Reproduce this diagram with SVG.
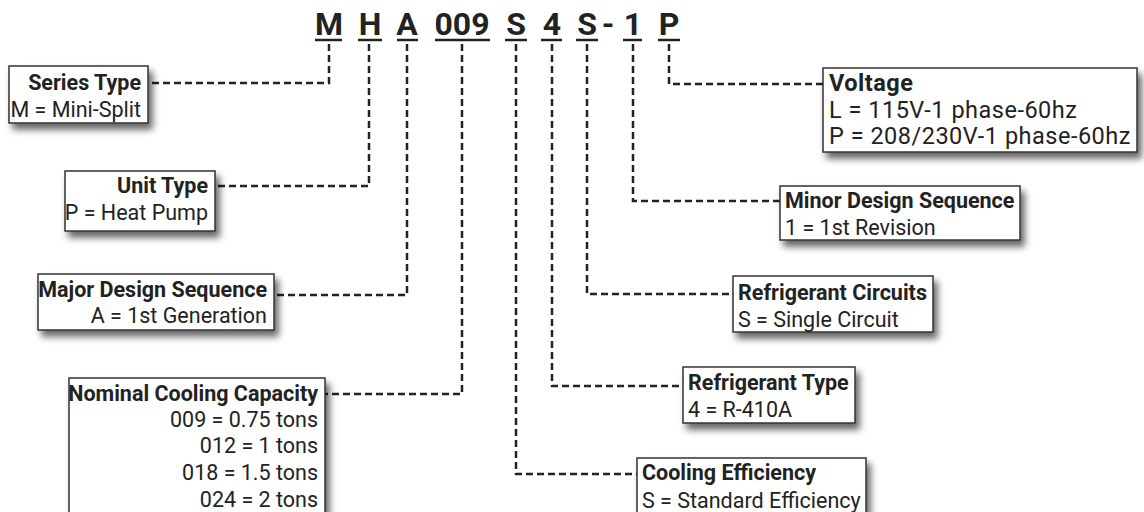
<svg xmlns="http://www.w3.org/2000/svg" width="1144" height="512" viewBox="0 0 1144 512">
<defs>
<filter id="sh" x="-10%" y="-20%" width="130%" height="160%">
<feDropShadow dx="4" dy="6" stdDeviation="3.5" flood-color="#000" flood-opacity="0.6"/>
</filter>
<style>
.box{fill:#fff;stroke:#333;stroke-width:1.5;filter:url(#sh)}
.t{font-family:Roboto,"Liberation Sans",sans-serif;font-size:21.5px;fill:#222}
.v{font-size:23.5px;letter-spacing:0.5px}
.b{font-weight:bold}
.r{text-anchor:end}
.code{font-family:Roboto,"Liberation Sans",sans-serif;font-size:32px;font-weight:bold;fill:#222;text-anchor:middle}
.ul{stroke:#222;stroke-width:2.5}
.c{fill:none;stroke:#222;stroke-width:2.5;stroke-dasharray:7 4}
</style>
</defs>
<rect width="1144" height="512" fill="#fff"/>
<g id="code">
<text class="code" x="329" y="35">M</text>
<text class="code" x="370" y="35">H</text>
<text class="code" x="407" y="35">A</text>
<text class="code" x="462" y="35">009</text>
<text class="code" x="516" y="35">S</text>
<text class="code" x="552" y="35">4</text>
<text class="code" x="587" y="35">S</text>
<text class="code" x="608" y="35">-</text>
<text class="code" x="633" y="35">1</text>
<text class="code" x="669" y="35">P</text>
<line class="ul" x1="315" y1="40" x2="342" y2="40"/>
<line class="ul" x1="358" y1="40" x2="382" y2="40"/>
<line class="ul" x1="397" y1="40" x2="418" y2="40"/>
<line class="ul" x1="435" y1="40" x2="490" y2="40"/>
<line class="ul" x1="505" y1="40" x2="527" y2="40"/>
<line class="ul" x1="541" y1="40" x2="562" y2="40"/>
<line class="ul" x1="576" y1="40" x2="598" y2="40"/>
<line class="ul" x1="623" y1="40" x2="642" y2="40"/>
<line class="ul" x1="658" y1="40" x2="680" y2="40"/>
</g>
<g id="connectors">
<polyline class="c" points="329,44 329,83 148,83"/>
<polyline class="c" points="369,44 369,186 215,186"/>
<polyline class="c" points="407,44 407,295 274,295"/>
<polyline class="c" points="462,44 462,394 325,394"/>
<polyline class="c" points="516,44 516,474 637,474"/>
<polyline class="c" points="552,44 552,386 683,386"/>
<polyline class="c" points="587,44 587,294 733,294"/>
<polyline class="c" points="633,44 633,201 780,201"/>
<polyline class="c" points="669,44 669,84 823,84"/>
</g>
<g id="series-type">
<rect class="box" x="9" y="66" width="139" height="57"/>
<text class="t b r" x="141" y="90">Series Type</text>
<text class="t r" x="141" y="117">M = Mini-Split</text>
</g>
<g id="unit-type">
<rect class="box" x="65" y="171" width="150" height="60"/>
<text class="t b r" x="208" y="193">Unit Type</text>
<text class="t r" x="208" y="220">P = Heat Pump</text>
</g>
<g id="major-design">
<rect class="box" x="38" y="274" width="236" height="56"/>
<text class="t b r" x="267" y="297">Major Design Sequence</text>
<text class="t r" x="267" y="323">A = 1st Generation</text>
</g>
<g id="nominal-capacity">
<rect class="box" x="69" y="378" width="256" height="145"/>
<text class="t b r" x="318" y="401">Nominal Cooling Capacity</text>
<text class="t r" x="318" y="427">009 = 0.75 tons</text>
<text class="t r" x="318" y="453">012 = 1 tons</text>
<text class="t r" x="318" y="480">018 = 1.5 tons</text>
<text class="t r" x="318" y="507">024 = 2 tons</text>
</g>
<g id="voltage">
<rect class="box" x="823" y="68" width="314" height="84"/>
<text class="t v b" x="829" y="91">Voltage</text>
<text class="t v" x="829" y="118">L = 115V-1 phase-60hz</text>
<text class="t v" x="829" y="144">P = 208/230V-1 phase-60hz</text>
</g>
<g id="minor-design">
<rect class="box" x="780" y="186" width="240" height="54"/>
<text class="t b" x="785" y="208">Minor Design Sequence</text>
<text class="t" x="785" y="235">1 = 1st Revision</text>
</g>
<g id="refrigerant-circuits">
<rect class="box" x="733" y="276" width="200" height="56"/>
<text class="t b" x="738" y="300">Refrigerant Circuits</text>
<text class="t" x="738" y="327">S = Single Circuit</text>
</g>
<g id="refrigerant-type">
<rect class="box" x="683" y="367" width="172" height="56"/>
<text class="t b" x="688" y="390">Refrigerant Type</text>
<text class="t" x="688" y="417">4 = R-410A</text>
</g>
<g id="cooling-efficiency">
<rect class="box" x="637" y="458" width="229" height="65"/>
<text class="t b" x="642" y="480">Cooling Efficiency</text>
<text class="t" x="642" y="508">S = Standard Efficiency</text>
</g>
</svg>
